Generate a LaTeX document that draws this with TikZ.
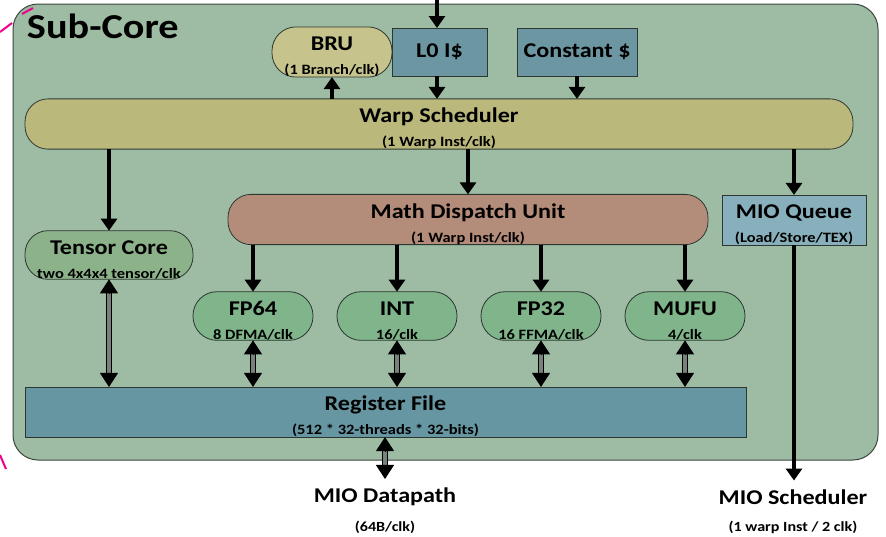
\documentclass[tikz,border=0pt]{standalone}
\usepackage{fontspec}
\setmainfont{Carlito}[FakeStretch=1.15]
\usetikzlibrary{arrows.meta,calc}

\definecolor{framefill}{RGB}{157,188,163}
\definecolor{frameedge}{RGB}{60,70,62}
\definecolor{nodeedge}{RGB}{45,55,50}
\definecolor{brufill}{RGB}{198,196,140}
\definecolor{warpfill}{RGB}{186,184,122}
\definecolor{cachefill}{RGB}{108,150,162}
\definecolor{mathfill}{RGB}{180,140,122}
\definecolor{mioqfill}{RGB}{136,176,188}
\definecolor{tensfill}{RGB}{140,178,138}
\definecolor{unitfill}{RGB}{128,180,138}
\definecolor{regfill}{RGB}{102,150,162}
\definecolor{shaftgray}{RGB}{120,130,125}

% unit title (upper line) and single-line title
\newcommand\ttl[1]{{\fontsize{21}{24}\selectfont\rule{0pt}{24pt}#1}}
\newcommand\ttlone[1]{{\fontsize{21}{24}\selectfont #1}}
% two-way datapath: hollow shaft with a solid head at each end
\newcommand\dblink[2]{%
  \draw[dblshaft] (#1) -- (#2);
  \draw[headtip] ($(#1)!14pt!(#2)$) -- (#1);
  \draw[headtip] ($(#2)!14pt!(#1)$) -- (#2);}

\begin{document}
\begin{tikzpicture}[x=1pt,y=-1pt,
  every node/.style={inner sep=0pt, outer sep=0pt, align=center,
    font=\fontsize{14.3}{24}\selectfont\bfseries},
  box/.style={draw=nodeedge, line width=0.8pt, rectangle},
  pill/.style={draw=nodeedge, line width=0.8pt, rectangle, rounded corners=23pt},
  arr/.style={line width=3.6pt, -{Triangle[length=12pt,width=16pt]}},
  dblshaft/.style={draw=black, line width=1.3pt, double=shaftgray, double distance=3.4pt,
    shorten <=12pt, shorten >=12pt},
  headtip/.style={line width=1pt, -{Triangle[length=14pt,width=18pt]}},
  subtxt/.style={font=\fontsize{14}{16}\selectfont\bfseries},
]
\useasboundingbox (0,0) rectangle (886,536);

% sub-core frame
\draw[fill=framefill, draw=frameedge, line width=1pt, rounded corners=25pt] (13,4) rectangle (878,460);
\node[anchor=base west, font=\fontsize{35}{36}\selectfont\bfseries] (title) at (27,38) {Sub-Core};

% stray pen marks at the left edge
\draw[magenta, line width=2pt] (0,32) -- (12,23);
\draw[magenta, line width=2pt] (22,14) -- (33,8);
\draw[magenta, line width=2pt] (0,455) -- (6,469);

% front end
\node[pill, fill=brufill, minimum width=120pt, minimum height=48pt, rounded corners=24pt] (bru) at (332,52)
  {\ttl{BRU}\\(1 Branch/clk)};
\node[box, fill=cachefill, minimum width=95pt, minimum height=48pt] (l0) at (439.5,52)
  {\ttlone{L0 I\$}};
\node[box, fill=cachefill, minimum width=120pt, minimum height=48pt] (const) at (577,52)
  {\ttlone{Constant \$}};
\node[pill, fill=warpfill, minimum width=828pt, minimum height=46pt] (warp) at (439,124)
  {\ttl{Warp Scheduler}\\(1 Warp Inst/clk)};

% dispatch level
\node[pill, fill=mathfill, minimum width=480pt, minimum height=47pt] (mdu) at (468,219.5)
  {\ttl{Math Dispatch Unit}\\(1 Warp Inst/clk)};
\node[box, fill=mioqfill, minimum width=144pt, minimum height=48pt] (mioq) at (794,220)
  {\ttl{MIO Queue}\\(Load/Store/TEX)};
\node[pill, fill=tensfill, minimum width=168pt, minimum height=46pt] (tc) at (109,255)
  {\ttl{Tensor Core}\\two 4x4x4 tensor/clk};

% execution units
\node[pill, fill=unitfill, minimum width=120pt, minimum height=48pt, rounded corners=24pt] (fp64) at (253,316)
  {\ttl{FP64}\\8 DFMA/clk};
\node[pill, fill=unitfill, minimum width=120pt, minimum height=48pt, rounded corners=24pt] (int) at (397,316)
  {\ttl{INT}\\16/clk};
\node[pill, fill=unitfill, minimum width=120pt, minimum height=48pt, rounded corners=24pt] (fp32) at (541,316)
  {\ttl{FP32}\\16 FFMA/clk};
\node[pill, fill=unitfill, minimum width=120pt, minimum height=48pt, rounded corners=24pt] (mufu) at (685,316)
  {\ttl{MUFU}\\4/clk};

% register file
\node[box, fill=regfill, minimum width=721pt, minimum height=50pt] (reg) at (385.5,412)
  {\ttl{Register File}\\(512 * 32-threads * 32-bits)};

% outputs below the frame
\node (dp) at (385,497) {\ttlone{MIO Datapath}};
\node[subtxt] (dpsub) at (385,527) {(64B/clk)};
\node (ms) at (793,497) {\ttlone{MIO Scheduler}};
\node[subtxt] (mssub) at (793,527) {(1 warp Inst / 2 clk)};

% connectors
\coordinate (in) at (437,0);
\draw[arr] (in) -- (in |- l0.north);
\draw[arr] (l0.south -| in) -- (warp.north -| in);
\draw[arr] (const.south) -- (const.south |- warp.north);
\draw[arr] (warp.north -| bru) -- (bru.south);
\draw[arr] (warp.south -| tc) -- (tc.north);
\draw[arr] (warp.south -| mdu) -- (mdu.north);
\draw[arr] (warp.south -| mioq) -- (mioq.north);
\foreach \u in {fp64,int,fp32,mufu,tc}{
  \coordinate (\u-rf) at (\u.south |- reg.north);
}
\foreach \u in {fp64,int,fp32,mufu}{
  \draw[arr] (mdu.south -| \u) -- (\u.north);
}
\dblink{fp64.south}{fp64-rf}
\dblink{int.south}{int-rf}
\dblink{fp32.south}{fp32-rf}
\dblink{mufu.south}{mufu-rf}
\dblink{tc.south}{tc-rf}
\coordinate (rf-dp) at (reg.south -| dp);
\coordinate (dp-in) at ([yshift=9pt]dp.north);
\dblink{rf-dp}{dp-in}
\draw[arr, shorten >=9pt] (mioq.south) -- (mioq.south |- ms.north);
\end{tikzpicture}
\end{document}
